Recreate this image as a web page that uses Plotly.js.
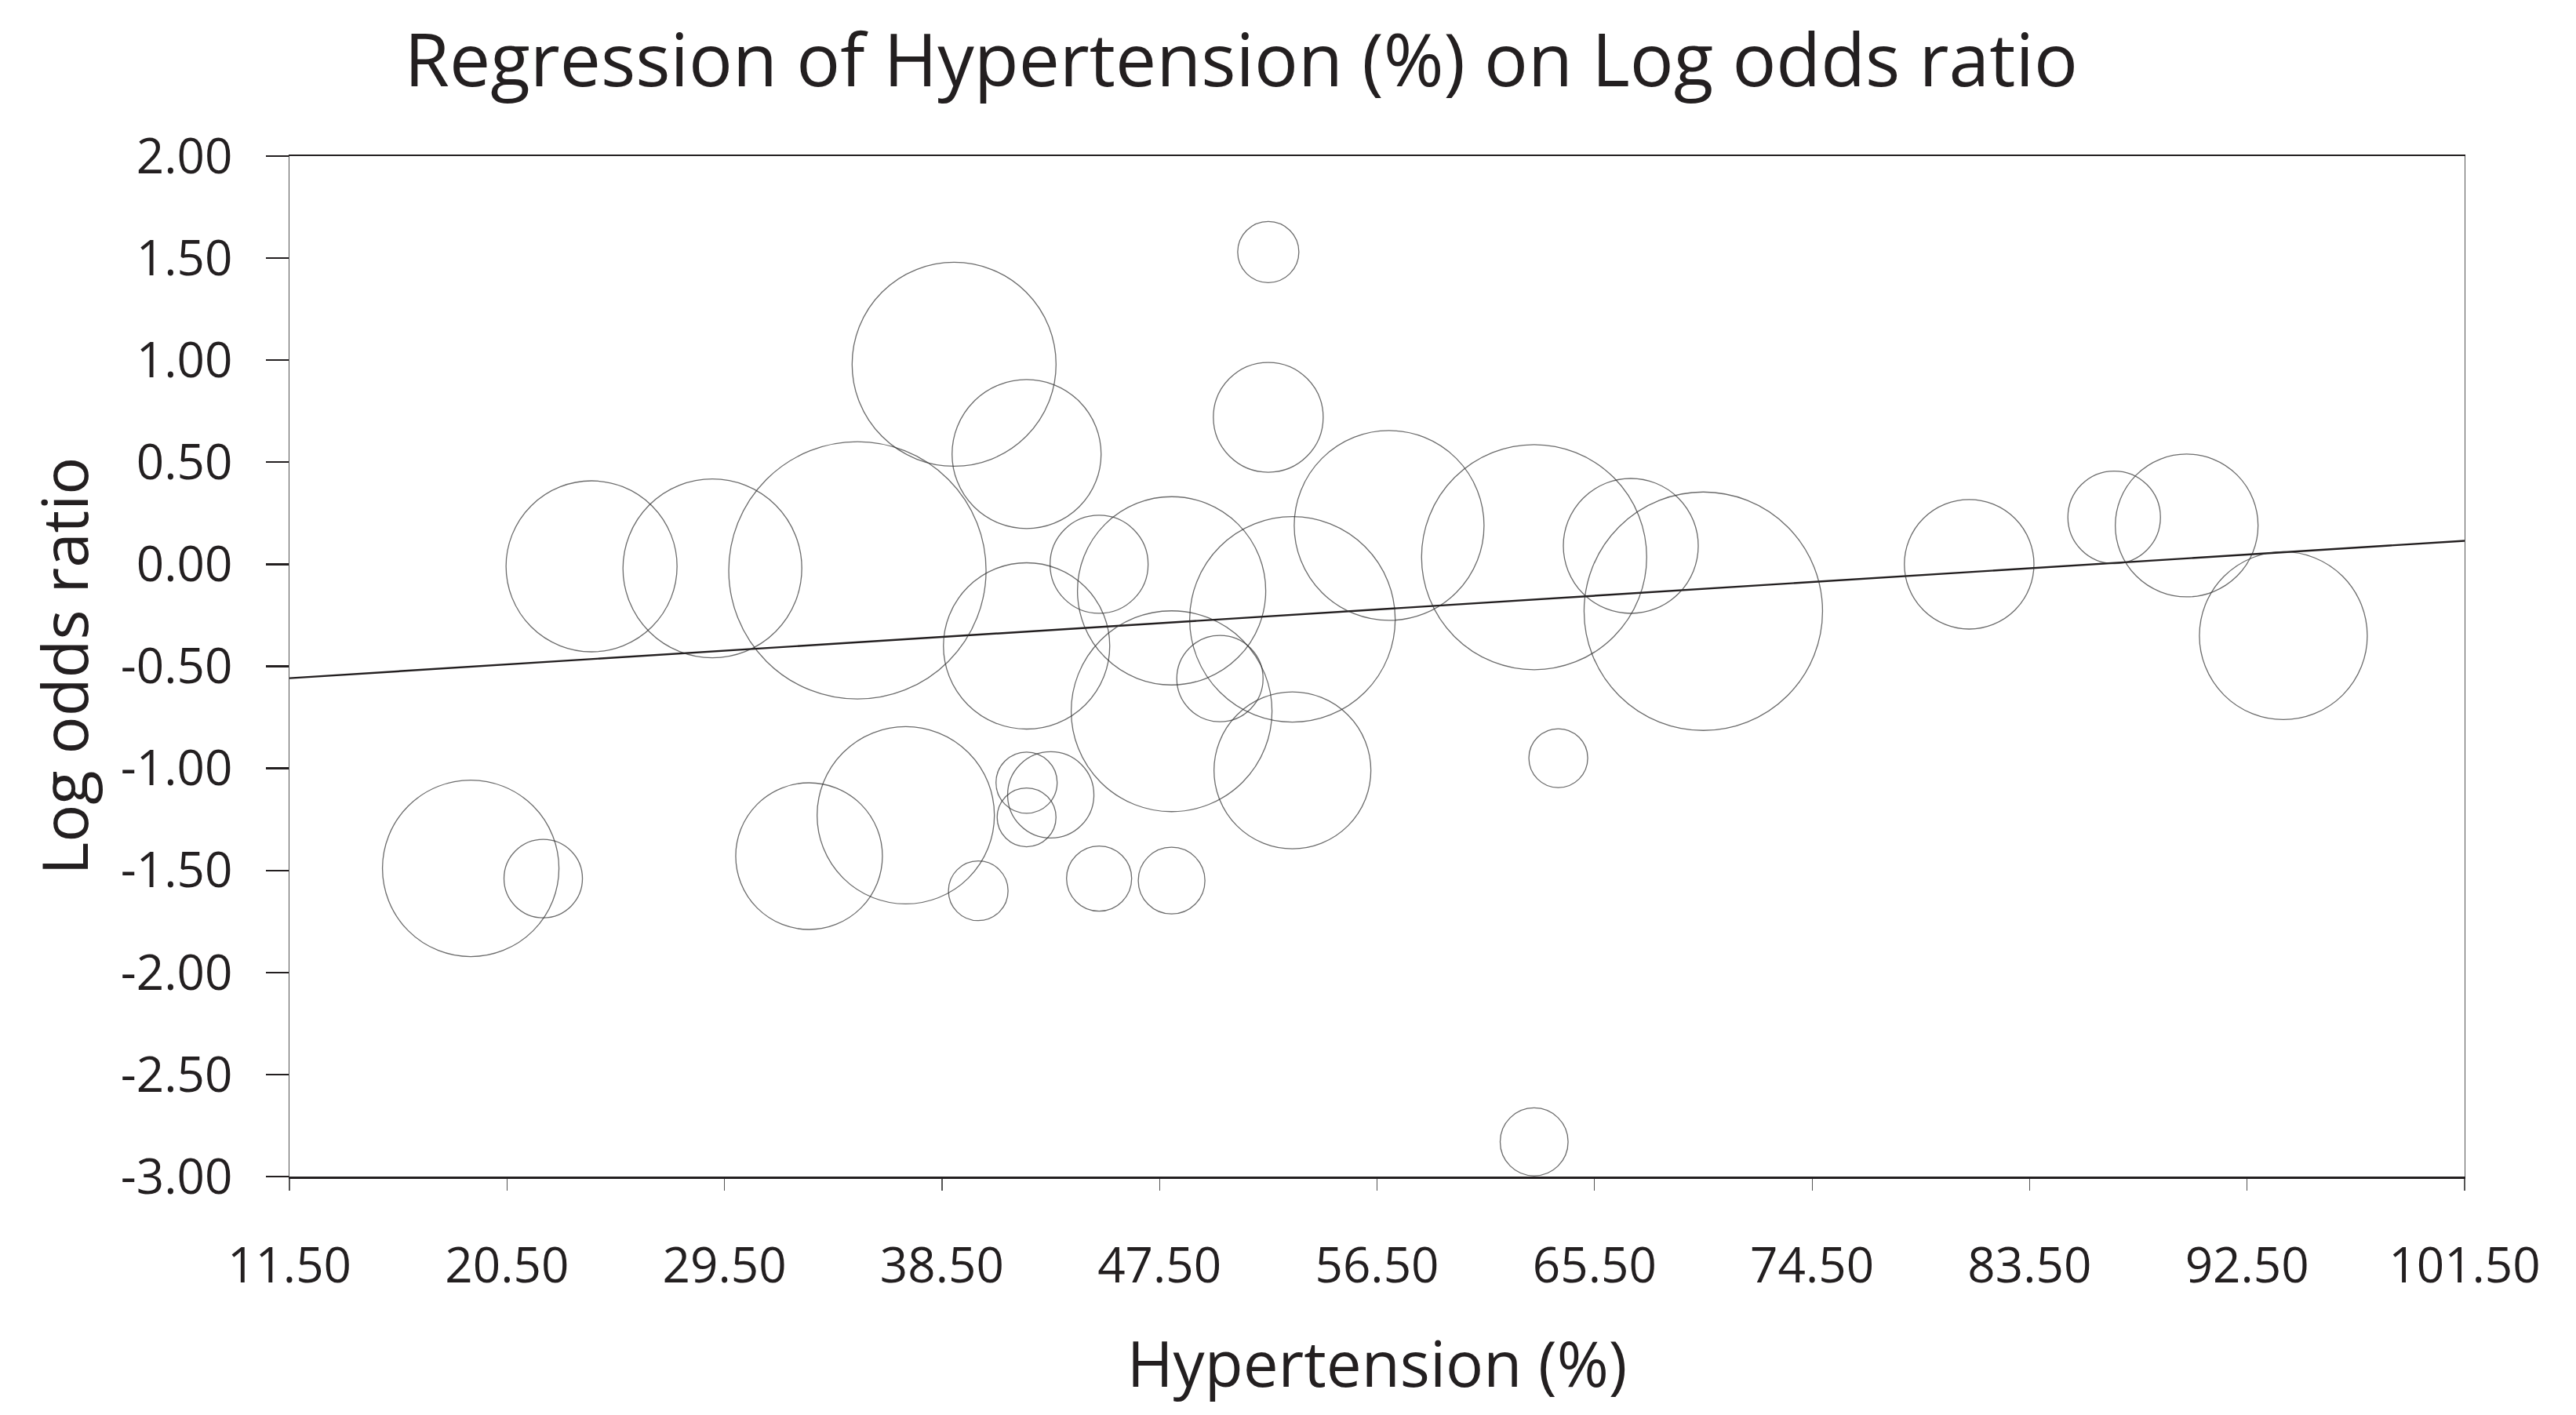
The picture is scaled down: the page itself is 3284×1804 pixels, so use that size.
<!DOCTYPE html>
<html>
<head>
<meta charset="utf-8">
<script src="https://cdn.plot.ly/plotly-3.0.1.min.js"></script>
<style>
  html, body { margin: 0; padding: 0; background: #ffffff; }
  #chart { width: 3284px; height: 1804px; }
</style>
</head>
<body>
<div id="chart"></div>
<script>
// Hypertension (%) per study
const hypertension = [52, 39, 42, 52, 24, 29, 35, 45, 48, 42, 53, 50, 57, 48,
                      19, 22, 33, 37, 40, 42, 42, 43, 45, 48, 53,
                      63, 67, 70, 81, 87, 90, 94, 64, 63];
// Log odds ratio per study
const logOddsRatio = [1.53, 0.98, 0.54, 0.72, -0.01, -0.02, -0.03, 0.00, -0.13, -0.40, -0.27, -0.56, 0.19, -0.72,
                      -1.49, -1.54, -1.43, -1.23, -1.60, -1.07, -1.24, -1.13, -1.54, -1.55, -1.01,
                      0.035, 0.09, -0.23, 0.00, 0.23, 0.19, -0.35, -0.95, -2.83];
// Study weight (relative bubble size)
const studyWeight = [39, 130, 95, 70, 109, 114, 164, 62.5, 120, 106, 131, 55, 121, 128,
                     112.5, 50, 93.5, 113, 38, 39, 37.5, 55, 41.5, 42.5, 100,
                     143.5, 86, 152, 82.6, 59, 91, 107, 37.5, 43.3];
// Fitted regression line (end points)
const regressionX = [11.5, 101.5];
const regressionY = [-0.558, 0.115];

// Tick labels
const xTickValues = [11.5, 20.5, 29.5, 38.5, 47.5, 56.5, 65.5, 74.5, 83.5, 92.5, 101.5];
const xTickLabels = ['11.50', '20.50', '29.50', '38.50', '47.50', '56.50', '65.50', '74.50', '83.50', '92.50', '101.50'];
const yTickValues = [-3, -2.5, -2, -1.5, -1, -0.5, 0, 0.5, 1, 1.5, 2];
const yTickLabels = ['-3.00', '-2.50', '-2.00', '-1.50', '-1.00', '-0.50', '0.00', '0.50', '1.00', '1.50', '2.00'];
const yTitle = 'Log odds ratio';

const ink = '#231f20';
const font = '"Open Sans", "Noto Sans", "DejaVu Sans", sans-serif';

const bubbles = {
  type: 'scatter',
  mode: 'markers',
  x: hypertension,
  y: logOddsRatio,
  marker: {
    size: studyWeight,
    sizemode: 'diameter',
    sizeref: 0.5,
    color: 'rgba(0,0,0,0)',
    line: { color: '#2e2e2e', width: 1.3 }
  },
  cliponaxis: false,
  hoverinfo: 'x+y'
};

const regression = {
  type: 'scatter',
  mode: 'lines',
  x: regressionX,
  y: regressionY,
  line: { color: ink, width: 2.4 },
  hoverinfo: 'skip'
};

const layout = {
  width: 3284,
  height: 1804,
  paper_bgcolor: '#ffffff',
  plot_bgcolor: '#ffffff',
  showlegend: false,
  margin: { l: 369, r: 142, t: 199, b: 304, pad: 0 },
  font: { family: font, color: ink, size: 62 },
  title: {
    text: 'Regression of Hypertension (%) on Log odds ratio',
    font: { family: font, size: 93, color: ink },
    xref: 'container', x: 0.4818, xanchor: 'center',
    yref: 'container', y: 0.9573, yanchor: 'middle'
  },
  xaxis: {
    range: [11.5, 101.5],
    tickmode: 'array',
    tickvals: xTickValues,
    ticktext: xTickLabels,
    showgrid: false,
    zeroline: false,
    showline: true,
    linecolor: ink,
    linewidth: 2.5,
    mirror: true,
    ticks: 'outside',
    ticklen: 15,
    tickwidth: 1.2,
    tickcolor: '#555555',
    ticklabelstandoff: 43,
    tickfont: { family: font, size: 62, color: ink },
    automargin: true,
    title: {
      text: 'Hypertension (%)',
      font: { family: font, size: 80, color: ink },
      standoff: 60
    }
  },
  yaxis: {
    range: [-3, 2],
    tickmode: 'array',
    tickvals: yTickValues,
    ticktext: yTickLabels,
    showgrid: false,
    zeroline: false,
    showline: true,
    linecolor: '#555555',
    linewidth: 1.2,
    mirror: true,
    ticks: 'outside',
    ticklen: 29,
    tickwidth: 2.2,
    tickcolor: ink,
    ticklabelstandoff: 30,
    tickfont: { family: font, size: 62, color: ink },
    automargin: false
  },
  annotations: [{
    text: yTitle,
    xref: 'paper', yref: 'paper',
    x: -0.1042, y: 0.5,
    xanchor: 'center', yanchor: 'middle',
    textangle: -90,
    showarrow: false,
    font: { family: font, size: 80, color: ink }
  }]
};

Plotly.newPlot('chart', [regression, bubbles], layout, { displayModeBar: false, staticPlot: true });
</script>
</body>
</html>
